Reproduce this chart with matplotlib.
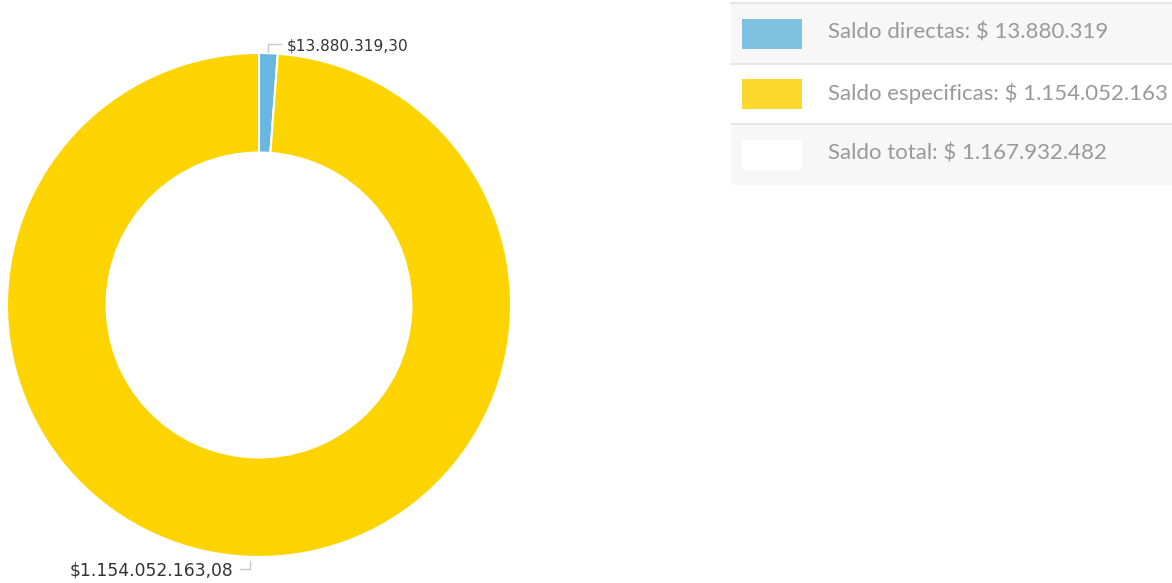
import matplotlib.pyplot as plt
from matplotlib.patches import Rectangle

# data
sliceNames = ["Saldo directas", "Saldo especificas"]
sliceValues = [13880319.30, 1154052163.08]
sliceLabels = ["$13.880.319,30", "$1.154.052.163,08"]
sliceColors = ["#68b7de", "#fdd400"]
legendTexts = ["Saldo directas: $ 13.880.319", "Saldo especificas: $ 1.154.052.163", "Saldo total: $ 1.167.932.482"]
legendColors = ["#7fc1e1", "#fad82e", "#ffffff"]
rowColors = ["#f7f7f7", "#ffffff", "#f7f7f7"]

W, H = 1172, 583
fig = plt.figure(figsize=(W / 100, H / 100), dpi=100)
ax = fig.add_axes([0, 0, 1, 1])

# pixel coords, y measured from bottom
cx, cy = 259, H - 305
R = 252
ax.pie(sliceValues, colors=sliceColors, startangle=90, counterclock=False,
       center=(cx, cy), radius=R,
       wedgeprops=dict(width=R * 0.395, edgecolor="white", linewidth=1.5))
ax.set_xlim(0, W)
ax.set_ylim(0, H)
ax.set_aspect("equal")
ax.axis("off")

# data labels with small connector lines
lineCol = "#c8c8c8"
ax.plot([268, 268, 281], [H - 52, H - 44, H - 44], color=lineCol, lw=1)
ax.text(287, H - 46, sliceLabels[0], fontsize=11.1, color="#333333", va="center", ha="left",
        family="DejaVu Sans")
ax.plot([240, 250, 250], [H - 569, H - 569, H - 561], color=lineCol, lw=1)
ax.text(233, H - 571, sliceLabels[1], fontsize=12.3, color="#333333", va="center", ha="right",
        family="DejaVu Sans")

# legend table
rowTop = 3
rowH = 60.5
for i in range(len(legendTexts)):
    y0 = H - (rowTop + (i + 1) * rowH)
    ax.add_patch(Rectangle((731, y0), W - 731, rowH, facecolor=rowColors[i], edgecolor="none"))
    ax.plot([731, W], [y0 + rowH, y0 + rowH], color="#e2e2e2", lw=1.2)
    ax.add_patch(Rectangle((742, y0 + 15), 60, 30, facecolor=legendColors[i], edgecolor="none"))
    ax.text(828, y0 + rowH / 2 + 1, legendTexts[i], fontsize=16, color="#999999",
            va="center", ha="left", family="Lato")

fig.savefig("out.png", dpi=100)
